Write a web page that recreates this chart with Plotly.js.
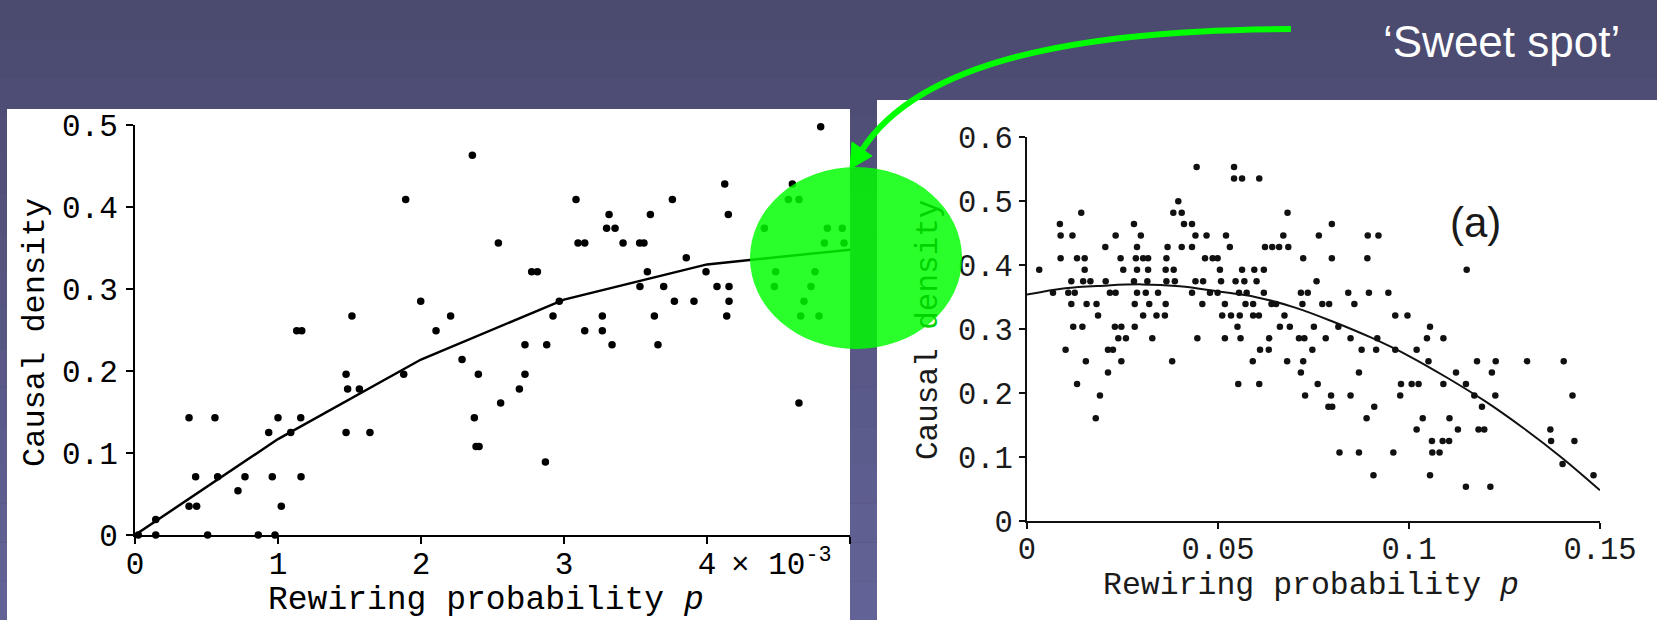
<!DOCTYPE html>
<html><head><meta charset="utf-8">
<script src="https://cdn.plot.ly/plotly-3.0.1.min.js"></script>
<style>html,body{margin:0;padding:0;background:#4b4a70;overflow:hidden}#chart{width:1657px;height:620px}</style>
</head><body><div id="chart"></div>
<script>
// ---------- data: left panel (p in units of 10^-3) ----------
const leftX = [0.023,0.145,0.145,0.378,0.559,0.378,0.431,0.424,0.578,0.508,0.720,0.769,0.862,0.979,0.935,1.000,0.960,1.023,1.089,1.131,1.166,1.159,1.161,1.476,1.487,1.569,1.476,1.643,1.517,1.893,1.879,1.998,2.105,
  2.207,2.359,2.287,2.401,2.373,2.385,2.406,2.541,2.557,2.688,2.727,2.727,2.774,2.814,2.879,2.870,2.923,2.967,3.084,3.098,3.145,3.145,3.268,3.268,3.315,3.298,3.357,3.336,3.413,3.529,
  3.559,3.531,3.583,3.604,3.632,3.657,3.697,3.758,3.772,3.855,3.909,3.993,4.070,4.154,4.124,4.149,4.154,4.138,4.795,4.597,4.643,4.569,4.643,4.401,4.842,4.946,4.821,4.958,4.480,4.755,
  4.471,4.727,4.678,4.655,4.783];
const leftY = [0,0.019,0,0.143,0.143,0.035,0.035,0.071,0.071,0,0.054,0.071,0,0,0.125,0.143,0.071,0.035,0.125,0.249,0.249,0.143,0.071,0.196,0.178,0.178,0.125,0.125,0.267,0.409,0.196,0.285,0.249,
  0.267,0.463,0.214,0.196,0.143,0.108,0.108,0.356,0.161,0.178,0.196,0.232,0.321,0.321,0.232,0.089,0.267,0.285,0.409,0.356,0.356,0.249,0.267,0.249,0.391,0.374,0.374,0.232,0.356,0.356,
  0.356,0.303,0.321,0.391,0.267,0.232,0.303,0.409,0.285,0.338,0.285,0.321,0.303,0.303,0.428,0.391,0.285,0.267,0.498,0.428,0.161,0.409,0.409,0.374,0.374,0.374,0.356,0.356,0.321,0.321,
  0.303,0.303,0.285,0.267,0.267];
const leftFitX = [0,1,2,3,4,5];
const leftFitY = [0,0.117,0.214,0.287,0.330,0.348];
const leftXTickVals = [0,1,2,3,4];
const leftXTickText = ['0','1','2','3','4'];
const leftXEndTick = [5];
const leftYTickVals = [0,0.1,0.2,0.3,0.4,0.5];
const leftYTickText = ['0','0.1','0.2','0.3','0.4','0.5'];

// ---------- data: right panel ----------
const rightX = [
  0.0444,0.0542,
  0.0542,0.0563,0.0608,
  0.0396,
  0.0142,0.0383,0.0405,0.0682,
  0.0086,0.0280,0.0411,0.0432,0.0798,
  0.0088,0.0119,0.0232,0.0298,0.0441,0.0470,0.0521,0.0671,0.0764,0.0892,0.0920,
  0.0205,0.0288,0.0368,0.0405,0.0432,0.0531,0.0623,0.0642,0.0660,0.0684,
  0.0088,0.0131,0.0151,0.0245,0.0285,0.0304,0.0317,0.0365,0.0466,0.0486,0.0499,0.0723,0.0798,0.0891,
  0.0032,0.0151,0.0252,0.0288,0.0317,0.0363,0.0384,0.0505,0.0563,0.0595,0.0620,0.1151,
  0.0116,0.0147,0.0166,0.0206,0.0280,0.0315,0.0365,0.0387,0.0441,0.0461,0.0508,0.0546,0.0569,0.0601,0.0758,
  0.0068,0.0108,0.0125,0.0217,0.0232,0.0288,0.0311,0.0343,0.0432,0.0479,0.0499,0.0555,0.0575,0.0620,0.0717,0.0735,0.0841,0.0895,0.0946,
  0.0116,0.0156,0.0182,0.0282,0.0320,0.0363,0.0459,0.0518,0.0572,0.0592,0.0640,0.0652,0.0721,0.0773,0.0791,0.0857,
  0.0186,0.0304,0.0339,0.0361,0.0511,0.0534,0.0557,0.0592,0.0607,0.0674,0.0964,0.0996,
  0.0121,0.0145,0.0230,0.0247,0.0282,0.0551,0.0662,0.0688,0.0751,0.0815,0.1055,
  0.0239,0.0259,0.0328,0.0446,0.0518,0.0559,0.0634,0.0712,0.0726,0.0782,0.0847,0.0917,0.1047,0.1090,
  0.0101,0.0212,0.0225,0.0610,0.0633,0.0747,0.0876,0.0914,0.0964,0.1020,
  0.0154,0.0247,0.0380,0.0591,0.0681,0.0723,0.1051,0.1178,0.1227,0.1309,0.1405,
  0.0212,0.0717,0.0869,0.1123,0.1217,
  0.0131,0.0553,0.0608,0.0761,0.0979,0.1007,0.1025,0.1090,0.1149,
  0.0191,0.0728,0.0796,0.0847,0.0977,0.1171,0.1226,0.1428,
  0.0789,0.0799,0.0909,0.1191,
  0.0180,0.0889,0.1036,0.1106,
  0.1020,0.1128,0.1182,0.1197,0.1370,
  0.1060,0.1088,0.1105,0.1372,0.1433,
  0.0818,0.0869,0.0959,0.1061,0.1080,
  0.1402,
  0.0907,0.1055,0.1483,
  0.1149,0.1213];
const rightY = [
  0.5536,0.5536,
  0.5357,0.5357,0.5357,
  0.5,
  0.4821,0.4821,0.4821,0.4821,
  0.4643,0.4643,0.4643,0.4643,0.4643,
  0.4464,0.4464,0.4464,0.4464,0.4464,0.4464,0.4464,0.4464,0.4464,0.4464,0.4464,
  0.4286,0.4286,0.4286,0.4286,0.4286,0.4286,0.4286,0.4286,0.4286,0.4286,
  0.4107,0.4107,0.4107,0.4107,0.4107,0.4107,0.4107,0.4107,0.4107,0.4107,0.4107,0.4107,0.4107,0.4107,
  0.3929,0.3929,0.3929,0.3929,0.3929,0.3929,0.3929,0.3929,0.3929,0.3929,0.3929,0.3929,
  0.375,0.375,0.375,0.375,0.375,0.375,0.375,0.375,0.375,0.375,0.375,0.375,0.375,0.375,0.375,
  0.3571,0.3571,0.3571,0.3571,0.3571,0.3571,0.3571,0.3571,0.3571,0.3571,0.3571,0.3571,0.3571,0.3571,0.3571,0.3571,0.3571,0.3571,0.3571,
  0.3393,0.3393,0.3393,0.3393,0.3393,0.3393,0.3393,0.3393,0.3393,0.3393,0.3393,0.3393,0.3393,0.3393,0.3393,0.3393,
  0.3214,0.3214,0.3214,0.3214,0.3214,0.3214,0.3214,0.3214,0.3214,0.3214,0.3214,0.3214,
  0.3036,0.3036,0.3036,0.3036,0.3036,0.3036,0.3036,0.3036,0.3036,0.3036,0.3036,
  0.2857,0.2857,0.2857,0.2857,0.2857,0.2857,0.2857,0.2857,0.2857,0.2857,0.2857,0.2857,0.2857,0.2857,
  0.2679,0.2679,0.2679,0.2679,0.2679,0.2679,0.2679,0.2679,0.2679,0.2679,
  0.25,0.25,0.25,0.25,0.25,0.25,0.25,0.25,0.25,0.25,0.25,
  0.2321,0.2321,0.2321,0.2321,0.2321,
  0.2143,0.2143,0.2143,0.2143,0.2143,0.2143,0.2143,0.2143,0.2143,
  0.1964,0.1964,0.1964,0.1964,0.1964,0.1964,0.1964,0.1964,
  0.1786,0.1786,0.1786,0.1786,
  0.1607,0.1607,0.1607,0.1607,
  0.1429,0.1429,0.1429,0.1429,0.1429,
  0.125,0.125,0.125,0.125,0.125,
  0.1071,0.1071,0.1071,0.1071,0.1071,
  0.0893,
  0.0714,0.0714,0.0714,
  0.0536,0.0536];
const rightFitX = [0,0.01,0.02,0.03,0.04,0.05,0.06,0.07,0.08,0.09,0.10,0.11,0.12,0.13,0.14,0.15];
const rightFitY = [0.354,0.364,0.368,0.370,0.367,0.359,0.350,0.334,0.312,0.287,0.258,0.224,0.187,0.145,0.099,0.048];
const rightXTickVals = [0,0.05,0.1,0.15];
const rightXTickText = ['0','0.05','0.1','0.15'];
const rightYTickVals = [0,0.1,0.2,0.3,0.4,0.5,0.6];
const rightYTickText = ['0','0.1','0.2','0.3','0.4','0.5','0.6'];

// ---------- layout helpers (pixel -> paper) ----------
const W = 1657, H = 620;
const px = x => x / W;
const py = y => 1 - y / H;
const MONO = 'Liberation Mono, Courier New, monospace';
const SANS = 'Liberation Sans, Arial, sans-serif';

const traces = [
  {x: leftX, y: leftY, xaxis: 'x', yaxis: 'y', type: 'scatter', mode: 'markers',
   marker: {color: '#000', size: 7.5}, cliponaxis: false, hoverinfo: 'skip'},
  {x: leftFitX, y: leftFitY, xaxis: 'x', yaxis: 'y', type: 'scatter', mode: 'lines',
   line: {color: '#000', width: 2.5}, cliponaxis: false, hoverinfo: 'skip'},
  {x: rightX, y: rightY, xaxis: 'x2', yaxis: 'y2', type: 'scatter', mode: 'markers',
   marker: {color: '#111', size: 6.5}, cliponaxis: false, hoverinfo: 'skip'},
  {x: rightFitX, y: rightFitY, xaxis: 'x2', yaxis: 'y2', type: 'scatter', mode: 'lines',
   line: {color: '#111', width: 2, shape: 'spline'}, cliponaxis: false, hoverinfo: 'skip'}
];

function axisBase(font) {
  return {showline: true, linecolor: '#000', linewidth: 2, ticks: 'outside', ticklen: 7, tickwidth: 2,
    tickcolor: '#000', showgrid: false, zeroline: false, fixedrange: true, mirror: false,
    tickfont: font, tickmode: 'array'};
}
const leftFont = {family: MONO, size: 31, color: '#000'};
const rightFont = {family: MONO, size: 30.5, color: '#1a1a1a'};

// background bands (slide gradient)
const shapes = [];
const nBands = 16;
const c0 = [74, 73, 110], c1 = [99, 99, 152];
for (let i = 0; i < nBands; i++) {
  const t = (i + 0.5) / nBands;
  const c = c0.map((v, k) => Math.round(v + (c1[k] - v) * t));
  shapes.push({type: 'rect', xref: 'paper', yref: 'paper', layer: 'below',
    x0: 0, x1: 1, y0: py(H * (i + 1) / nBands), y1: py(H * i / nBands),
    fillcolor: `rgb(${c[0]},${c[1]},${c[2]})`, line: {width: 0}});
}
// white panels
shapes.push({type: 'rect', xref: 'paper', yref: 'paper', layer: 'below',
  x0: px(7), x1: px(850), y0: 0, y1: py(109), fillcolor: '#fff', line: {width: 0}});
shapes.push({type: 'rect', xref: 'paper', yref: 'paper', layer: 'below',
  x0: px(877), x1: 1, y0: 0, y1: py(100), fillcolor: '#fff', line: {width: 0}});
// sweet-spot ellipse
shapes.push({type: 'circle', xref: 'paper', yref: 'paper', layer: 'above',
  x0: px(750), x1: px(962), y0: py(349), y1: py(167),
  fillcolor: 'rgba(0,255,0,0.83)', line: {width: 0}});
// curved arrow
const P = (x, y) => `${px(x)},${py(y)}`;
shapes.push({type: 'path', xref: 'paper', yref: 'paper', layer: 'above',
  path: `M ${P(1291, 29)} C ${P(1080, 30)} ${P(920, 60)} ${P(862, 150)}`,
  line: {color: '#00ff00', width: 6}, fillcolor: 'rgba(0,0,0,0)'});
shapes.push({type: 'path', xref: 'paper', yref: 'paper', layer: 'above',
  path: `M ${P(850, 169)} L ${P(872, 156)} L ${P(852, 142)} Z`,
  line: {color: '#00ff00', width: 1}, fillcolor: '#00ff00'});

const annotations = [
  {xref: 'paper', yref: 'paper', x: px(729), y: py(563), xanchor: 'left', yanchor: 'middle',
   text: '× 10<sup>-3</sup>', showarrow: false, font: leftFont},
  {xref: 'paper', yref: 'paper', x: px(35), y: py(333), textangle: -90, xanchor: 'center', yanchor: 'middle',
   text: 'Causal density', showarrow: false, font: {family: MONO, size: 32, color: '#000'}},
  {xref: 'paper', yref: 'paper', x: px(486), y: py(600), xanchor: 'center', yanchor: 'middle',
   text: 'Rewiring probability <i>p</i>', showarrow: false, font: {family: MONO, size: 33, color: '#000'}},
  {xref: 'paper', yref: 'paper', x: px(928), y: py(330), textangle: -90, xanchor: 'center', yanchor: 'middle',
   text: 'Causal <span style="color:#00d400">density</span>', showarrow: false, font: {family: MONO, size: 31, color: '#1a1a1a'}},
  {xref: 'paper', yref: 'paper', x: px(1311), y: py(585), xanchor: 'center', yanchor: 'middle',
   text: 'Rewiring probability <i>p</i>', showarrow: false, font: {family: MONO, size: 31.5, color: '#1a1a1a'}},
  {xref: 'paper', yref: 'paper', x: px(1475), y: py(223), xanchor: 'center', yanchor: 'middle',
   text: '(a)', showarrow: false, font: {family: SANS, size: 42, color: '#1a1a1a'}},
  {xref: 'paper', yref: 'paper', x: px(1622), y: py(41), xanchor: 'right', yanchor: 'middle',
   text: '‘Sweet spot’', showarrow: false, font: {family: SANS, size: 44, color: '#ffffff'}}
];

const layout = {
  width: W, height: H, margin: {l: 0, r: 0, t: 0, b: 0, pad: 0},
  paper_bgcolor: '#4b4a70', plot_bgcolor: 'rgba(0,0,0,0)', showlegend: false,
  xaxis: Object.assign(axisBase(leftFont), {domain: [px(135), px(850)], range: [0, 5], anchor: 'y',
    tickvals: leftXTickVals, ticktext: leftXTickText, ticklabelstandoff: -7,
    minor: {tickmode: 'array', tickvals: leftXEndTick, ticks: 'outside', ticklen: 7, tickwidth: 2, tickcolor: '#000', showgrid: false}}),
  yaxis: Object.assign(axisBase(leftFont), {domain: [py(535), py(125)], range: [0, 0.5], anchor: 'x',
    tickvals: leftYTickVals, ticktext: leftYTickText, ticklabelstandoff: 2}),
  xaxis2: Object.assign(axisBase(rightFont), {domain: [px(1027), px(1600)], range: [0, 0.15], anchor: 'y2',
    tickvals: rightXTickVals, ticktext: rightXTickText, ticklen: 6, linecolor: '#111', tickcolor: '#111',
    ticklabelstandoff: -7}),
  yaxis2: Object.assign(axisBase(rightFont), {domain: [py(521), py(137.3)], range: [0, 0.6], anchor: 'x2',
    tickvals: rightYTickVals, ticktext: rightYTickText, ticklen: 6, linecolor: '#111', tickcolor: '#111'}),
  shapes: shapes,
  annotations: annotations
};

Plotly.newPlot('chart', traces, layout, {staticPlot: true, displayModeBar: false});
</script></body></html>
